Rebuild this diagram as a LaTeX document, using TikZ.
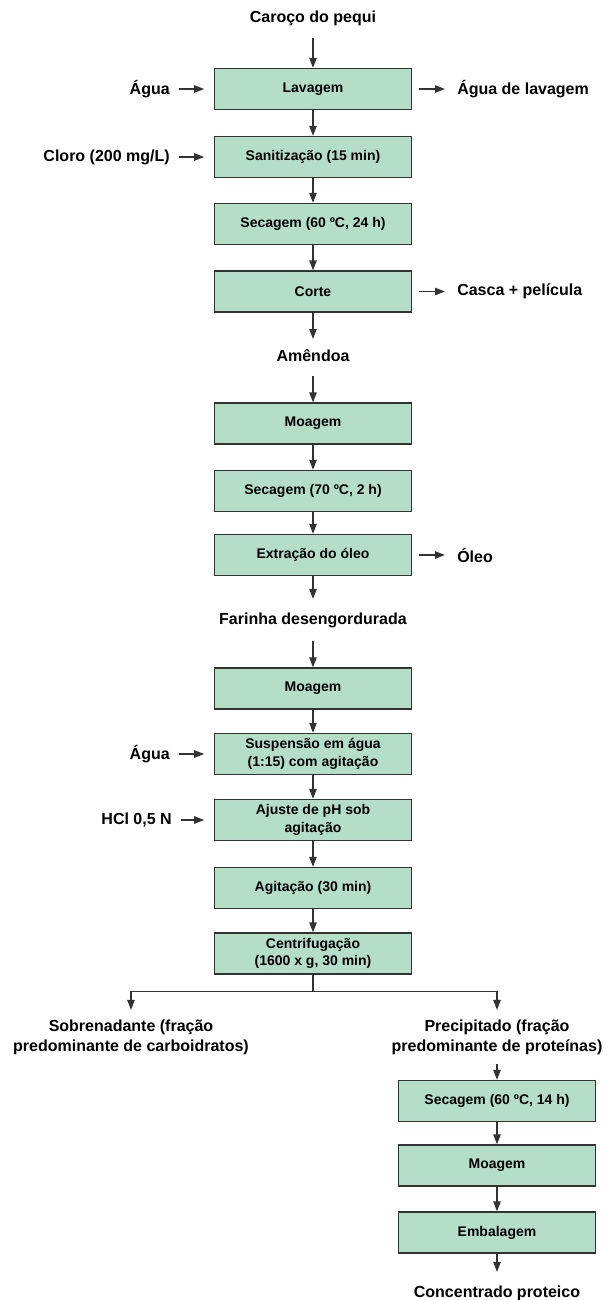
\documentclass[tikz,border=0pt]{standalone}
\usepackage{fontspec}
\setmainfont{Liberation Sans}
\usetikzlibrary{arrows.meta}

\definecolor{verde}{HTML}{B4DEC8}
\definecolor{contorno}{HTML}{333333}

\begin{document}
\begin{tikzpicture}[x=0.75pt, y=-0.75pt,
    etapa/.style={rectangle, draw=contorno, line width=1.2pt, fill=verde,
      minimum width=148pt, minimum height=30.5pt, inner sep=2pt, align=center,
      font=\bfseries\fontsize{10.5}{13}\selectfont},
    rotulo/.style={inner sep=0pt, align=center,
      font=\bfseries\fontsize{12}{15}\selectfont},
    seta/.style={-{Triangle[length=7.5pt, width=5.5pt]}, line width=1.1pt, draw=contorno},
    entra/.style={seta, shorten <=6.5pt, shorten >=7pt},
    sai/.style={seta, shorten <=5pt, shorten >=9pt},
  ]
  \useasboundingbox (0,0) rectangle (607,1300);

  % linha principal
  \node[rotulo] (caroco) at (313,18) {Caroço do pequi};
  \node[etapa] (lavagem) at (313,89) {Lavagem};
  \node[etapa] (sanit) at (313,157) {Sanitização (15 min)};
  \node[etapa] (secagemA) at (313,224) {Secagem (60 ºC, 24 h)};
  \node[etapa] (corte) at (313,291.5) {Corte};
  \node[rotulo] (amendoa) at (313,356) {Amêndoa};
  \node[etapa] (moagemA) at (313,423.5) {Moagem};
  \node[etapa] (secagemB) at (313,491) {Secagem (70 ºC, 2 h)};
  \node[etapa] (extracao) at (313,555) {Extração do óleo};
  \node[rotulo] (farinha) at (313,620) {Farinha desengordurada};
  \node[etapa] (moagemB) at (313,688.5) {Moagem};
  \node[etapa] (suspensao) at (313,754) {Suspensão em água\\(1:15) com agitação};
  \node[etapa] (ajuste) at (313,820) {Ajuste de pH sob\\agitação};
  \node[etapa] (agitacao) at (313,888) {Agitação (30 min)};
  \node[etapa] (centrif) at (313,953.5) {Centrifugação\\(1600 x g, 30 min)};

  % ramos
  \node[rotulo] (sobrenad) at (131,1037) {Sobrenadante (fração\\predominante de carboidratos)};
  \node[rotulo] (precip) at (497,1037) {Precipitado (fração\\predominante de proteínas)};
  \node[etapa] (secagemC) at (497,1101) {Secagem (60 ºC, 14 h)};
  \node[etapa] (moagemC) at (497,1165.5) {Moagem};
  \node[etapa] (embalagem) at (497,1232.5) {Embalagem};
  \node[rotulo] (concentrado) at (497,1293) {Concentrado proteico};

  % entradas e saidas laterais
  \node[rotulo, anchor=east] (aguaA) at (170,89) {Água};
  \node[rotulo, anchor=east] (cloro) at (170,157) {Cloro (200 mg/L)};
  \node[rotulo, anchor=east] (aguaB) at (170,754) {Água};
  \node[rotulo, anchor=east] (hcl) at (172,820) {HCl 0,5 N};
  \node[rotulo, anchor=west] (aguaLav) at (457,89) {Água de lavagem};
  \node[rotulo, anchor=west] (casca) at (457,291.5) {Casca + película};
  \node[rotulo, anchor=west] (oleo) at (457,555) {Óleo};

  \draw[seta, shorten <=9pt] (caroco) -- (lavagem);
  \draw[seta] (lavagem) -- (sanit);
  \draw[seta] (sanit) -- (secagemA);
  \draw[seta] (secagemA) -- (corte);
  \draw[seta, shorten >=8pt] (corte) -- (amendoa);
  \draw[seta, shorten <=10pt] (amendoa) -- (moagemA);
  \draw[seta] (moagemA) -- (secagemB);
  \draw[seta] (secagemB) -- (extracao);
  \draw[seta, shorten >=10pt] (extracao) -- (farinha);
  \draw[seta, shorten <=10pt] (farinha) -- (moagemB);
  \draw[seta] (moagemB) -- (suspensao);
  \draw[seta] (suspensao) -- (ajuste);
  \draw[seta] (ajuste) -- (agitacao);
  \draw[seta] (agitacao) -- (centrif);

  \draw[line width=1.1pt, draw=contorno] (centrif.south) -- ++(0,17) coordinate (divide);
  \draw[seta, shorten >=7pt] (divide) -| (sobrenad.north);
  \draw[seta, shorten >=7pt] (divide) -| (precip.north);
  \draw[seta, shorten <=7pt] (precip) -- (secagemC);
  \draw[seta] (secagemC) -- (moagemC);
  \draw[seta] (moagemC) -- (embalagem);
  \draw[seta, shorten >=10pt] (embalagem) -- (concentrado);

  \draw[entra] (aguaA) -- (lavagem);
  \draw[entra] (cloro) -- (sanit);
  \draw[entra] (aguaB) -- (suspensao);
  \draw[entra] (hcl) -- (ajuste);
  \draw[sai] (lavagem) -- (aguaLav);
  \draw[sai] (corte) -- (casca);
  \draw[sai] (extracao) -- (oleo);
\end{tikzpicture}
\end{document}
